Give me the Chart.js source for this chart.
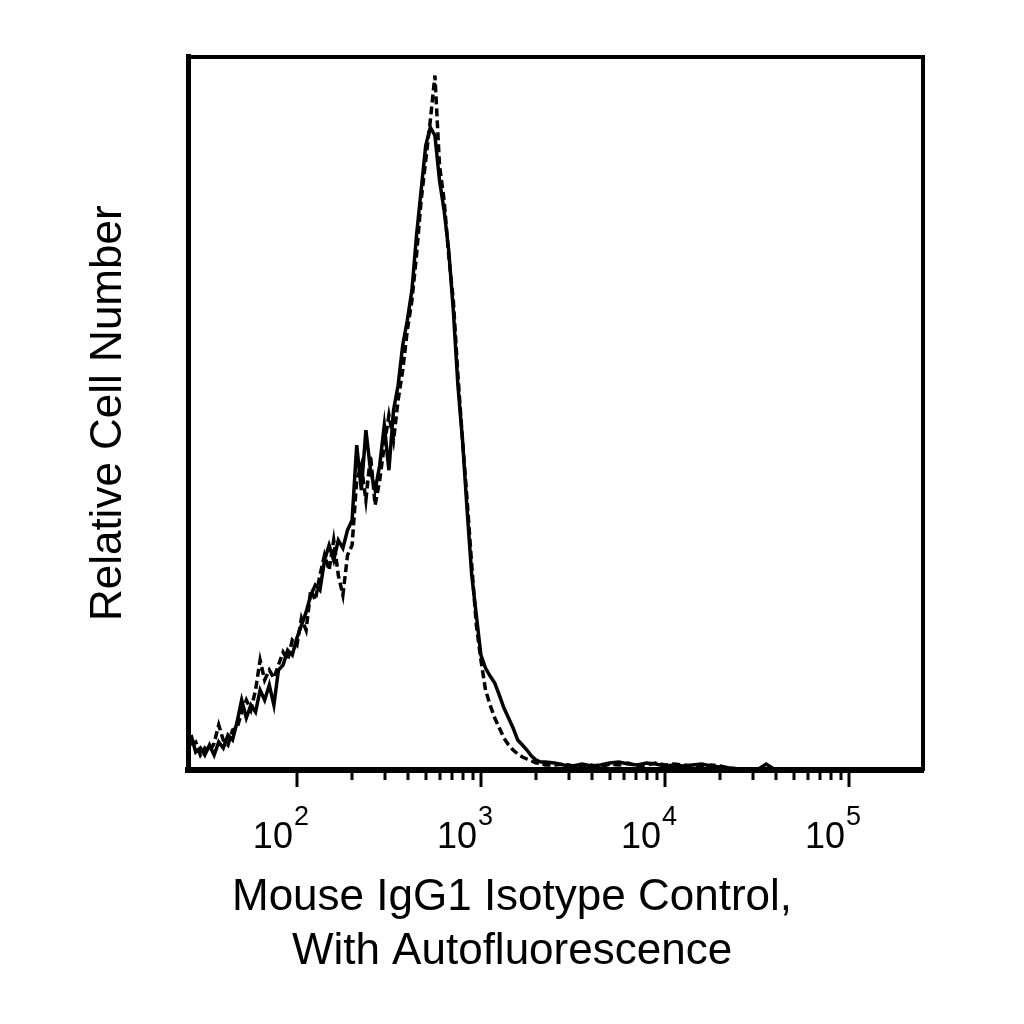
<!DOCTYPE html>
<html>
<head>
<meta charset="utf-8">
<script src="https://cdn.jsdelivr.net/npm/chart.js@4.4.1/dist/chart.umd.min.js"></script>
<style>
  html, body { margin: 0; padding: 0; background: #fff; }
  #wrap { width: 1024px; height: 1024px; }
</style>
</head>
<body>
<div id="wrap"><canvas id="histo" width="1024" height="1024"></canvas></div>
<script>
// fluorescence channel (bin centres), shared by both histograms
var channels = [
  26.6, 28.2, 29.9, 31.6, 33.5, 35.5, 37.6, 39.8, 42.2, 44.7,
  47.3, 50.1, 53.1, 56.2, 59.6, 63.1, 66.8, 70.8, 75.0, 79.4,
  84.1, 89.1, 94.4, 100, 105.9, 112.2, 118.9, 125.9, 133.4, 141.3,
  149.6, 158.5, 167.9, 177.8, 188.4, 199.5, 211.4, 223.9, 237.1, 251.2,
  266.1, 281.8, 298.5, 316.2, 335.0, 354.8, 375.8, 398.1, 421.7, 446.7,
  473.2, 501.2, 530.9, 562.3, 595.7, 631.0, 668.3, 707.9, 749.9, 794.3,
  841.4, 891.3, 944.1, 1000, 1059, 1122, 1189, 1259, 1334, 1413,
  1496, 1585, 1679, 1778, 1884, 1995, 2113, 2239,
  2512, 2818, 3162, 3548, 3981, 4467, 5012, 5623, 6310, 7079,
  7943, 8913, 10000, 11220, 12589, 14125, 15849, 17783, 19953, 22387,
  25119, 28184, 31623, 35481, 39811
];

// isotype control (solid line)
var isotypeCounts = [
  35, 18, 22, 15, 25, 15, 28, 22, 35, 30,
  48, 70, 52, 65, 58, 80, 70, 85, 65, 100,
  105, 120, 115, 132, 145, 158, 175, 185, 180, 210,
  225, 210, 230, 222, 240, 250, 325, 280, 340, 300,
  280, 305, 345, 300, 360, 385, 425, 450, 480, 535,
  580, 625, 643, 635, 590, 560, 520, 460, 385, 330,
  260, 195, 155, 115, 102, 94, 87, 75, 62, 52,
  42, 30, 25, 20, 14, 10, 8, 8,
  7, 5, 4, 6, 4, 5, 7, 8, 6, 5,
  7, 6, 4, 5, 4, 5, 6, 4, 3, 2,
  1, 0, 0, 6, 0
];

// autofluorescence (dashed line)
var autoCounts = [
  25, 28, 15, 22, 18, 27, 45, 30, 25, 40,
  42, 58, 70, 60, 80, 110, 90, 100, 92, 105,
  118, 110, 130, 125, 152, 140, 180, 170, 195, 215,
  200, 230, 195, 175, 215, 225, 290, 305, 270, 315,
  265, 290, 325, 355, 330, 370, 400, 440, 470, 515,
  570, 610, 650, 695, 605, 570, 515, 470, 395, 330,
  270, 205, 145, 110, 80, 65, 52, 42, 32, 25,
  20, 16, 13, 11, 9, 7, 7, 5,
  5, 6, 4, 4, 5, 3, 6, 5, 7, 4,
  5, 7, 5, 6, 5, 4, 3, 5, 4, 2,
  1, 0, 0, 0, 0
];

var majorTicks = [100, 1000, 10000, 100000];
var majorExponents = ['2', '3', '4', '5'];
var minorTicks = [
  200, 300, 400, 500, 600, 700, 800, 900,
  2000, 3000, 4000, 5000, 6000, 7000, 8000, 9000,
  20000, 30000, 40000, 50000, 60000, 70000, 80000, 90000
];

var xTitle = ['Mouse IgG1 Isotype Control,', 'With Autofluorescence'];
var yTitle = 'Relative Cell Number';

function toPoints(xs, ys) {
  var out = [];
  for (var i = 0; i < xs.length; i++) out.push({ x: xs[i], y: ys[i] });
  return out;
}

// tick marks + 10^n labels under the log axis
var decadeAxis = {
  id: 'decadeAxis',
  afterDraw: function(chart) {
    var ctx = chart.ctx;
    var sx = chart.scales.x;
    var y0 = chart.chartArea.bottom + 3;
    ctx.save();
    ctx.strokeStyle = '#000';
    ctx.lineWidth = 3;
    ctx.beginPath();
    minorTicks.forEach(function(v) {
      var px = Math.round(sx.getPixelForValue(v));
      ctx.moveTo(px, y0);
      ctx.lineTo(px, y0 + 7);
    });
    majorTicks.forEach(function(v) {
      var px = Math.round(sx.getPixelForValue(v));
      ctx.moveTo(px, y0);
      ctx.lineTo(px, y0 + 14);
    });
    ctx.stroke();

    ctx.fillStyle = '#000';
    ctx.textBaseline = 'alphabetic';
    majorTicks.forEach(function(v, i) {
      var px = sx.getPixelForValue(v);
      ctx.font = '36px "Liberation Sans", Arial, sans-serif';
      ctx.textAlign = 'right';
      ctx.fillText('10', px - 4, 848);
      ctx.font = '27px "Liberation Sans", Arial, sans-serif';
      ctx.textAlign = 'left';
      ctx.fillText(majorExponents[i], px - 3, 825);
    });
    ctx.restore();
  }
};

Chart.defaults.font.family = '"Liberation Sans", Arial, sans-serif';
Chart.defaults.color = '#000';

var ctx = document.getElementById('histo').getContext('2d');
var histChart = new Chart(ctx, {
  type: 'line',
  data: {
    datasets: [{
      label: 'Isotype control',
      data: toPoints(channels, isotypeCounts),
      borderColor: '#000',
      borderWidth: 3.5,
      pointRadius: 0,
      fill: false,
      tension: 0
    }, {
      label: 'Autofluorescence',
      data: toPoints(channels, autoCounts),
      borderColor: '#000',
      borderWidth: 3.5,
      borderDash: [8, 4],
      pointRadius: 0,
      fill: false,
      tension: 0
    }]
  },
  options: {
    responsive: false,
    animation: false,
    devicePixelRatio: 1,
    layout: { padding: 0 },
    plugins: {
      legend: { display: false },
      tooltip: { enabled: false },
      title: {
        display: true,
        position: 'bottom',
        text: xTitle,
        color: '#000',
        font: { size: 44, weight: 'normal', lineHeight: 54 / 44 },
        padding: { top: 0, bottom: 45 }
      }
    },
    scales: {
      x: {
        type: 'logarithmic',
        position: 'bottom',
        min: 25.6,
        max: 252500,
        grid: { display: false },
        ticks: { display: false },
        border: { display: true, color: '#000', width: 6 },
        afterFit: function(s) { s.height = 101; }
      },
      x2: {
        type: 'linear',
        position: 'top',
        grid: { display: false },
        ticks: { display: false },
        border: { display: true, color: '#000', width: 4 },
        afterFit: function(s) { s.height = 56.5; }
      },
      y: {
        type: 'linear',
        position: 'left',
        min: 0,
        max: 714,
        grid: { display: false },
        ticks: { display: false },
        border: { display: true, color: '#000', width: 5 },
        title: {
          display: true,
          text: yTitle,
          color: '#000',
          font: { size: 44, weight: 'normal' },
          padding: { top: 82, bottom: 0 }
        },
        afterFit: function(s) { s.width = 188; }
      },
      y2: {
        type: 'linear',
        position: 'right',
        grid: { display: false },
        ticks: { display: false },
        border: { display: true, color: '#000', width: 4 },
        afterFit: function(s) { s.width = 101; }
      }
    }
  },
  plugins: [decadeAxis]
});
</script>
</body>
</html>
